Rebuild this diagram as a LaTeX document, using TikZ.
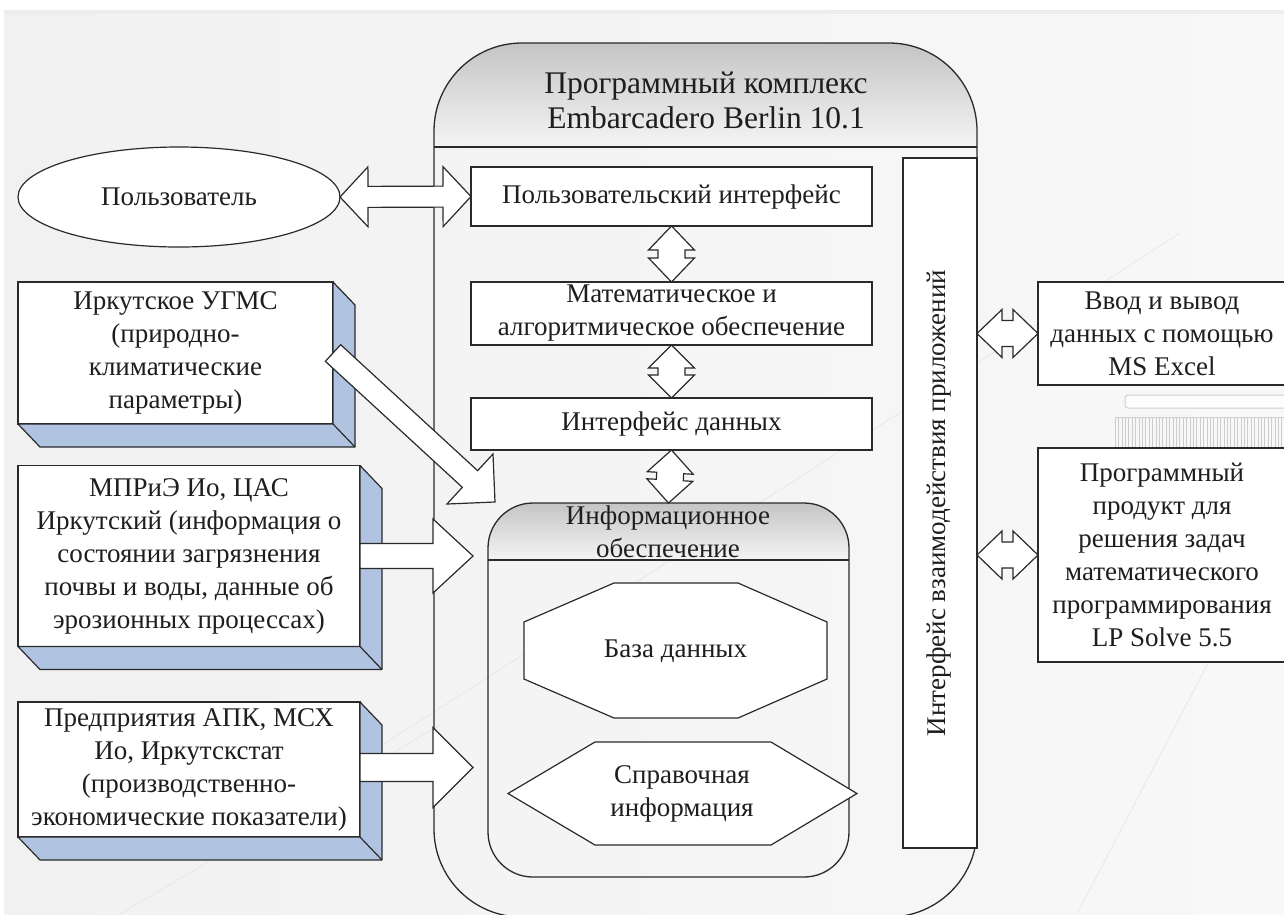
\documentclass[tikz,border=0pt]{standalone}
\usepackage{fontspec}
\setmainfont{Liberation Serif}
\usetikzlibrary{calc,shapes.geometric}
\definecolor{bgL}{HTML}{F1F1F1}
\definecolor{bgR}{HTML}{F8F8F8}
\definecolor{sideblue}{RGB}{176,196,226}
\definecolor{ink}{HTML}{1E1E1E}
\definecolor{edge}{HTML}{2A2A2A}
\newcommand{\blockarrow}[5]{%
  \coordinate (ba-h) at ($(#2)!#5!(#1)$);
  \draw[barr] ($(#1)!#3!90:(#2)$) -- ($(ba-h)!#3!90:(#2)$) -- ($(ba-h)!#4!90:(#2)$) -- (#2)
    -- ($(ba-h)!#4!-90:(#2)$) -- ($(ba-h)!#3!-90:(#2)$) -- ($(#1)!#3!-90:(#2)$) -- cycle;}
\newcommand{\dblarrow}[5]{%
  \coordinate (da-a) at ($(#1)!#5!(#2)$);
  \coordinate (da-b) at ($(#2)!#5!(#1)$);
  \draw[barr] (#1) -- ($(da-a)!#4!90:(#2)$) -- ($(da-a)!#3!90:(#2)$) -- ($(da-b)!#3!-90:(#1)$)
    -- ($(da-b)!#4!-90:(#1)$) -- (#2) -- ($(da-b)!#4!90:(#1)$) -- ($(da-b)!#3!90:(#1)$)
    -- ($(da-a)!#3!-90:(#2)$) -- ($(da-a)!#4!-90:(#2)$) -- cycle;}
\tikzset{
  every node/.style={font=\fontsize{27}{33}\selectfont, text=ink, inner sep=0pt, outer sep=0pt},
  box/.style={draw=edge, fill=white, line width=1.4pt},
  shp/.style={draw=edge, fill=white, line width=1.2pt},
  sidef/.style={draw=edge, fill=sideblue, line width=1.2pt, line join=round},
  barr/.style={draw=edge, fill=white, line width=1.2pt, line join=miter},
  faint/.style={draw=black!9, line width=0.8pt},
  hdr/.style={top color=black!23, bottom color=black!4}
}
\begin{document}
\begin{tikzpicture}[x=1pt,y=-1pt]
\useasboundingbox (0,0) rectangle (1284,914);
\begin{scope}
\clip (0,0) rectangle (1284,914);
% background
\fill[white] (0,0) rectangle (1284,914);
\shade[left color=bgL, right color=bgR] (4,10) rectangle (1284,914);
\fill[black!7] (4,10) rectangle (1284,14);
\draw[faint] (370,753) -- (1180,233);
\draw[faint] (1215,650) -- (1077,914);
\draw[faint] (120,914) -- (440,725);
% decorative bar and comb at right
\draw[black!18, fill=white!70!bgR, line width=1pt, rounded corners=3pt] (1125,395) rectangle (1300,408);
\draw[black!18, line width=0.6pt] (1115,417) -- (1290,417);
\foreach \i in {0,...,50} \draw[black!20, line width=0.6pt] ({1115+\i*3.4},417) -- ++(0,33);

% main program complex
\begin{scope}
\clip[rounded corners=88pt] (434,43) rectangle (977,400);
\shade[hdr] (434,43) rectangle (977,147);
\end{scope}
\node[draw=edge, line width=1.3pt, rounded corners=88pt, minimum width=543pt, minimum height=874pt] (prog) at (705.5,480) {};
\draw[edge, line width=1.3pt] (prog.west |- 0,147) -- (prog.east |- 0,147);
\node[font=\fontsize{31.5}{35}\selectfont, align=center] (title) at (706,100) {Программный комплекс\\Embarcadero Berlin 10.1};

% application interface bar
\node[box, minimum width=74pt, minimum height=690pt] (iface) at (940,503) {};
\node[rotate=90] (ifacetxt) at (939,503) {Интерфейс взаимодействия приложений};

% inner boxes
\node[box, minimum width=401pt, minimum height=59pt] (ui) at (671.5,196.5) {Пользовательский интерфейс};
\node[box, minimum width=401pt, minimum height=63pt, align=center] (math) at (671.5,313.5) {Математическое и\\алгоритмическое обеспечение};
\node[box, minimum width=401pt, minimum height=52pt] (data) at (671.5,424) {Интерфейс данных};

% information support
\begin{scope}
\clip[rounded corners=45pt] (488,503) rectangle (849,877);
\shade[hdr] (488,503) rectangle (849,560);
\end{scope}
\node[draw=edge, line width=1.3pt, rounded corners=45pt, minimum width=361pt, minimum height=374pt] (info) at (668.5,690) {};
\draw[edge, line width=1.3pt] (info.west |- 0,560) -- (info.east |- 0,560);
\node[align=center] (infotxt) at (668,531.5) {Информационное\\обеспечение};
\draw[shp] (614,583) -- (738,583) -- (827,622) -- (827,679) -- (738,718) -- (614,718) -- (524,679) -- (524,622) -- cycle;
\node (db) at (675.5,651) {База данных};
\draw[shp] (508,793.5) -- (595,742) -- (771,742) -- (857,793.5) -- (771,845) -- (595,845) -- cycle;
\node[align=center] (refinfo) at (682,794) {Справочная\\информация};

% user
\node[draw=edge, fill=white, line width=1.2pt, ellipse, minimum width=322pt, minimum height=100pt] (user) at (179,197) {Пользователь};

% external sources (3D boxes)
\node[box, minimum width=315pt, minimum height=142pt, align=center] (s1) at (175.5,353) {Иркутское УГМС\\(природно-\\климатические\\параметры)};
\node[box, minimum width=342pt, minimum height=181pt, align=center] (s2) at (189,556) {МПРиЭ Ио, ЦАС\\Иркутский (информация о\\состоянии загрязнения\\почвы и воды, данные об\\эрозионных процессах)};
\node[box, minimum width=342pt, minimum height=135pt, align=center] (s3) at (189,769.5) {Предприятия АПК, МСХ\\Ио, Иркутскстат\\(производственно-\\экономические показатели)};
\foreach \s in {s1,s2,s3}{
  \draw[sidef] (\s.north east) -- ++(22,23) -- ($(\s.south east)+(22,23)$) -- ($(\s.south west)+(22,23)$) -- (\s.south west) -- (\s.south east) -- cycle;
  \draw[edge, line width=1.2pt] (\s.south east) -- ++(22,23);
}

% external programs
\node[box, minimum width=248pt, minimum height=103pt, align=center] (excel) at (1162,333.5) {Ввод и вывод\\данных с помощью\\MS Excel};
\node[box, minimum width=248pt, minimum height=214pt, align=center] (lp) at (1162,555) {Программный\\продукт для\\решения задач\\математического\\программирования\\LP Solve 5.5};

% arrows
\dblarrow{user.east}{ui.west}{10.5pt}{30pt}{28pt}
\dblarrow{ui.south}{math.north}{13.5pt}{23pt}{24pt}
\dblarrow{math.south}{data.north}{13.5pt}{23pt}{23pt}
\dblarrow{data.south}{info.north}{13.5pt}{23pt}{23pt}
\coordinate (r1) at (iface.east |- excel.west);
\coordinate (r2) at (iface.east |- lp.west);
\dblarrow{r1}{excel.west}{13pt}{24pt}{25pt}
\dblarrow{r2}{lp.west}{13pt}{24pt}{25pt}
\coordinate (t1) at (495,502);
\coordinate (t2) at ($(s2.east)+(113,0)$);
\coordinate (t3) at ($(s3.east)+(113,-2)$);
\coordinate (b3) at ($(s3.east)+(0,-2)$);
\blockarrow{s1.east}{t1}{11.3pt}{34pt}{34pt}
\blockarrow{s2.east}{t2}{12.5pt}{37pt}{40pt}
\blockarrow{b3}{t3}{14pt}{40pt}{40pt}
\end{scope}
\end{tikzpicture}
\end{document}
